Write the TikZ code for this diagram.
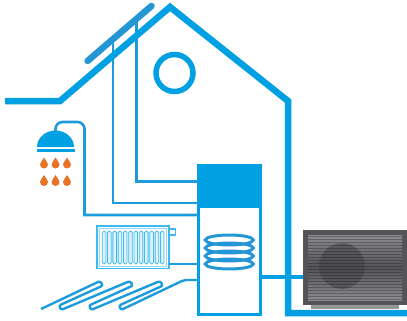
\documentclass[tikz,border=0pt]{standalone}
\usetikzlibrary{calc}
\definecolor{HouseBlue}{RGB}{0,160,227}
\definecolor{PanelBlue}{RGB}{36,150,212}
\definecolor{PipeBlue}{RGB}{28,156,220}
\definecolor{RadBlue}{RGB}{62,186,240}
\definecolor{FinFill}{RGB}{222,242,252}
\definecolor{DropOrange}{RGB}{232,114,40}
\definecolor{PumpDark}{RGB}{84,84,87}
\definecolor{PumpLight}{RGB}{140,140,142}
\definecolor{PumpBase}{RGB}{150,150,152}

\tikzset{
  pics/droplet/.style={code={
    \fill[DropOrange] (0,0) .. controls (1,3) and (4,4.5) .. (4,7)
      arc[start angle=0, end angle=180, radius=4]
      .. controls (-4,4.5) and (-1,3) .. cycle;
  }}
}

\begin{document}
\begin{tikzpicture}[
  x=1pt, y=-1pt,
  wall/.style={HouseBlue, line width=6.5pt},
  pipe/.style={PipeBlue, line width=2.6pt},
  tankbox/.style={draw=HouseBlue, line width=3pt, minimum width=61.5pt, minimum height=149pt, inner sep=0pt, outer sep=0pt},
  radbox/.style={draw=RadBlue, line width=1.6pt, fill=white, minimum width=72pt, minimum height=42.5pt, inner sep=0pt, outer sep=0pt},
  pumpbox/.style={fill=PumpDark, minimum width=104pt, minimum height=75pt, inner sep=0pt, outer sep=0pt},
  fin/.style={draw=RadBlue, fill=FinFill, line width=0.8pt, rounded corners=1.6pt},
  coil/.style={PanelBlue, line width=3pt}
]
  \useasboundingbox (0,0) rectangle (407,321);

  % collector on the roof
  \coordinate (panel-a) at (87.5,61);
  \coordinate (panel-b) at (151.5,6);
  \coordinate (sp1) at ($(panel-a)!0.4!(panel-b)$);
  \coordinate (sp2) at ($(panel-a)!0.77!(panel-b)$);

  % storage tank, radiator and heat pump
  \node[tankbox] (tank) at (229.25,239.5) {};
  \node[radbox] (rad) at (133,247.25) {};
  \node[pumpbox] (pump) at (355,267.5) {};

  % solar circuit
  \coordinate (sol-in) at ([yshift=36.5pt]tank.west);
  \coordinate (sol-out) at ([yshift=58pt]tank.west);
  \draw[pipe] (sp1) |- (sol-in);
  \draw[pipe] (sp2) |- (sol-out);

  % house
  \draw[wall] (5,101) -- (60,101) -- (170,7) -- (288,101) -- (288,313) -- (407,313);
  \draw[HouseBlue, line width=5.5pt] (174.5,73) circle[radius=18.5];
  \draw[PanelBlue, line width=6.5pt, line cap=round] (panel-a) -- (panel-b);

  % tank
  \fill[HouseBlue] (tank.north west) rectangle ($(tank.north east)+(0,43)$);
  \foreach \y in {240,248,256,264}
    \draw[coil] (229.25,\y) ellipse[x radius=24, y radius=5];

  % shower
  \coordinate (head) at (55.5,131);
  \coordinate (shower-top) at (84.5,122);
  \coordinate (shower-in) at ([yshift=24.5pt]tank.west);
  \fill[HouseBlue] (37,147) arc[start angle=180, end angle=360, x radius=18.5, y radius=16.5];
  \fill[HouseBlue] (36.5,148.5) rectangle (75,151.5);
  \draw[pipe] (head) [rounded corners=7pt] |- (shower-top) [sharp corners] |- (shower-in);
  \foreach \x in {44,55.5,67}
    \foreach \t in {157.5,175}
      \pic at (\x,\t) {droplet};

  % radiator
  \draw[RadBlue!55, line width=0.6pt] ($(rad.north west)+(2.5,2.5)$) rectangle ($(rad.south east)+(-2.5,-2.5)$);
  \foreach \i in {0,...,11}
    \draw[fin] ({102.3+5.28*\i},231) rectangle ++(3.6,33);
  \draw[RadBlue, line width=1.2pt] ($(rad.north east)+(0,3)$) rectangle ++(6.5,6);
  \coordinate (rad-out) at ($(rad.south east)+(0,-4.5)$);
  \draw[pipe] (rad-out) -- (rad-out -| tank.west);

  % floor heating loop
  \coordinate (floor-in) at (184,280);
  \draw[pipe, line width=2.4pt, rounded corners=2.2pt]
    (41,309) -- (100,281) -- (103,285.5) -- (59,305.5) -- (61,310)
    -- (130,281) -- (133,285.5) -- (89,305.5) -- (91,310)
    -- (160,281) -- (163,285.5) -- (119,305.5) -- (121,310)
    -- (floor-in) -- (floor-in -| tank.west);

  % heat pump
  \shade[top color=PumpLight, bottom color=PumpLight, middle color=PumpDark]
    ($(pump.north west)+(5,5)$) rectangle ($(pump.south east)+(-5,-5)$);
  \fill[PumpDark!80!black, opacity=.55] (342,266) circle[radius=23];
  \foreach \y in {236,239,...,299}
    \draw[black, opacity=.25, line width=.6pt] (308,\y) -- (402,\y);
  \fill[PumpBase] ($(pump.south west)+(8,0)$) rectangle ($(pump.south east)+(-8,4)$);
  \coordinate (pump-in) at ([yshift=-9.5pt]pump.west);
  \draw[HouseBlue, line width=3.5pt] (tank.east |- pump-in) -- (pump-in);
\end{tikzpicture}
\end{document}
